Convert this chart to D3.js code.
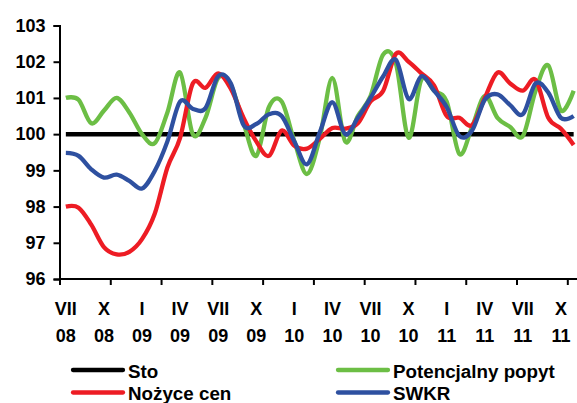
<!DOCTYPE html>
<html>
<head>
<meta charset="utf-8">
<script src="https://cdn.jsdelivr.net/npm/d3@7"></script>
<style>
  body { margin: 0; background: #fff; }
  svg { display: block; font-family: "Liberation Sans", Arial, sans-serif; font-weight: bold; }
</style>
</head>
<body>
<svg id="chart" width="577" height="403"></svg>
<script>
// monthly observations, VII 2008 .. XI 2011
var tickMonths = ["VII", "X", "I", "IV", "VII", "X", "I", "IV", "VII", "X", "I", "IV", "VII", "X"];
var tickYears  = ["08", "08", "09", "09", "09", "09", "10", "10", "10", "10", "11", "11", "11", "11"];
var yTicks = [96, 97, 98, 99, 100, 101, 102, 103];

var sto = [100, 100, 100, 100, 100, 100, 100, 100, 100, 100,
           100, 100, 100, 100, 100, 100, 100, 100, 100, 100,
           100, 100, 100, 100, 100, 100, 100, 100, 100, 100,
           100, 100, 100, 100, 100, 100, 100, 100, 100, 100, 100];

var popyt = [101.0, 100.95, 100.3, 100.65, 101.0, 100.6, 100.0, 99.75, 100.6, 101.7,
             100.0, 100.45, 101.55, 101.35, 100.3, 99.4, 100.75, 100.9, 99.8, 98.9,
             99.9, 101.55, 99.8, 100.5, 101.05, 102.2, 101.95, 99.9, 101.5, 101.2,
             100.9, 99.45, 100.2, 101.05, 100.45, 100.2, 99.95, 101.2, 101.9, 100.65, 101.2];

var nozyce = [98.0, 97.97, 97.5, 96.88, 96.68, 96.75, 97.1, 97.8, 99.08, 99.9,
              101.4, 101.28, 101.68, 101.25, 100.45, 99.8, 99.4, 100.1, 99.68, 99.6,
              99.87, 100.17, 100.15, 100.3, 100.9, 101.2, 102.22, 102.0, 101.68, 101.35,
              100.5, 100.45, 100.25, 101.0, 101.7, 101.4, 101.2, 101.5, 100.45, 100.15, 99.7];

var swkr = [99.48, 99.4, 99.03, 98.8, 98.88, 98.71, 98.5, 98.98, 99.8, 100.9,
            100.7, 100.72, 101.6, 101.4, 100.25, 100.28, 100.55, 100.5, 99.8, 99.17,
            100.05, 100.88, 100.0, 100.45, 101.0, 101.6, 102.05, 100.97, 101.6, 101.2,
            100.75, 99.95, 100.1, 100.95, 101.1, 100.8, 100.55, 101.4, 101.15, 100.45, 100.5];

var series = [
  { name: "Sto",               values: sto,    color: "#000000" },
  { name: "Potencjalny popyt", values: popyt,  color: "#6cbe45" },
  { name: "Nożyce cen",        values: nozyce, color: "#ed1c24" },
  { name: "SWKR",              values: swkr,   color: "#2e50a0" }
];

var svg = d3.select("#chart");
var n = popyt.length;

var x = d3.scaleLinear().domain([-0.5, n - 0.5]).range([59.5, 580]);
var y = d3.scaleLinear().domain([96, 103]).range([279, 25.5]);

// y axis
var yAxis = d3.axisLeft(y).tickValues(yTicks).tickSize(6).tickPadding(8).tickFormat(d3.format("d"));
var gy = svg.append("g").attr("transform", "translate(59.5,0)").call(yAxis);
gy.select(".domain").attr("stroke-width", 2);
gy.selectAll(".tick line").attr("stroke-width", 2);
gy.selectAll(".tick text").attr("font-size", 18).attr("fill", "#000");

// x axis: ticks every 4 months on category borders, labels every 3 months
var borders = d3.range(-0.5, n, 4);
var xAxis = d3.axisBottom(x).tickValues(borders).tickSize(6).tickFormat("");
var gx = svg.append("g").attr("transform", "translate(0,279)").call(xAxis);
gx.select(".domain").attr("stroke-width", 2).attr("d", "M59.5,0H577");
gx.selectAll(".tick line").attr("stroke-width", 2);

var labels = svg.append("g").attr("font-size", 18).attr("text-anchor", "middle");
labels.selectAll("text.m")
  .data(tickMonths)
  .enter().append("text")
  .attr("class", "m")
  .attr("x", function(d, i) { return x(i * 3); })
  .attr("y", 315)
  .text(function(d) { return d; });
labels.selectAll("text.yr")
  .data(tickYears)
  .enter().append("text")
  .attr("class", "yr")
  .attr("x", function(d, i) { return x(i * 3); })
  .attr("y", 341.5)
  .text(function(d) { return d; });

// lines
var line = d3.line()
  .x(function(d, i) { return x(i); })
  .y(function(d) { return y(d); })
  .curve(d3.curveCardinal.tension(0));

svg.append("g").selectAll("path")
  .data(series)
  .enter().append("path")
  .attr("fill", "none")
  .attr("stroke", function(d) { return d.color; })
  .attr("stroke-width", function(d) { return d.name === "Sto" ? 4.5 : 4.3; })
  .attr("stroke-linejoin", "round")
  .attr("d", function(d) { return line(d.values); });

// legend, two columns
var legendPos = [[73, 370], [338, 370], [73, 392.5], [338, 392.5]];
var legend = svg.append("g").selectAll("g.legend")
  .data(series)
  .enter().append("g")
  .attr("class", "legend")
  .attr("transform", function(d, i) { return "translate(" + legendPos[i][0] + "," + legendPos[i][1] + ")"; });

legend.append("line")
  .attr("x1", 0).attr("x2", 50)
  .attr("stroke", function(d) { return d.color; })
  .attr("stroke-width", 4.3)
  .attr("stroke-linecap", "round");

legend.append("text")
  .attr("x", 55)
  .attr("dy", "0.4em")
  .attr("font-size", 18.8)
  .text(function(d) { return d.name; });
</script>
</body>
</html>
